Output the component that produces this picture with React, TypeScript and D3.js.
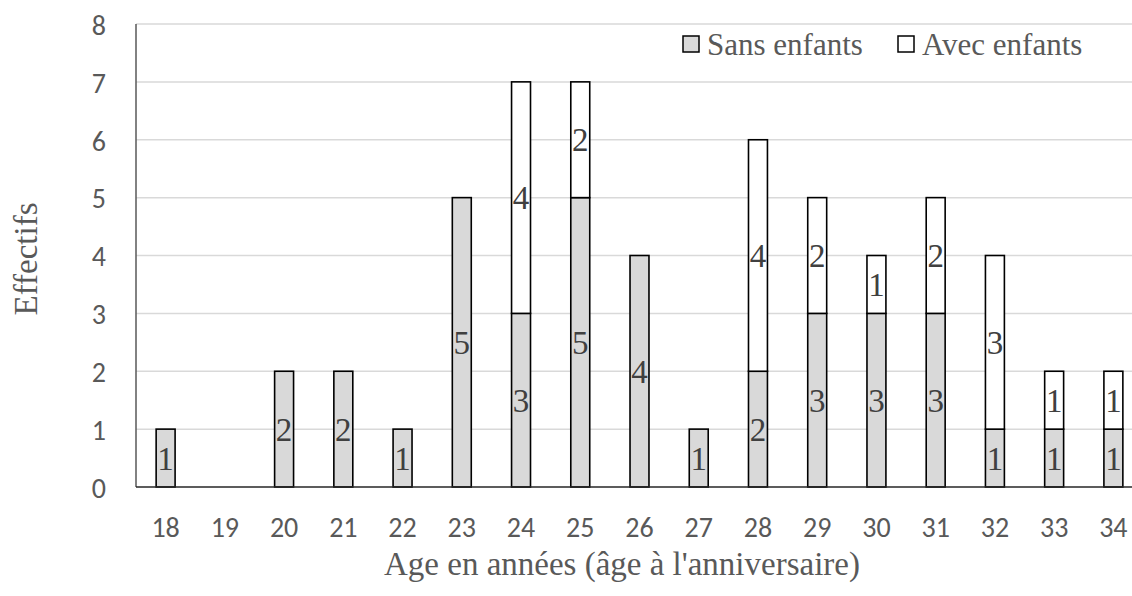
import React from "react";
import * as d3 from "d3";

const ages = ["18","19","20","21","22","23","24","25","26","27","28","29","30","31","32","33","34"];
const sansEnfants = [1,0,2,2,1,5,3,5,4,1,2,3,3,3,1,1,1];
const avecEnfants = [0,0,0,0,0,0,4,2,0,0,4,2,1,2,3,1,1];
const yTicks = [0,1,2,3,4,5,6,7,8];
const seriesNames = ["Sans enfants", "Avec enfants"];
const seriesFills = ["#d9d9d9", "#ffffff"];

export default function App() {
  const W = 1132, H = 596;
  const left = 136, right = 1143, top = 24, bottom = 487;
  const x = d3.scaleBand<string>().domain(ages).range([left, right]).padding(0);
  const y = d3.scaleLinear().domain([0, 8]).range([bottom, top]);
  const bw = x.bandwidth() * 0.32;

  const rows = ages.map((a, i) => ({ age: a, sans: sansEnfants[i], avec: avecEnfants[i] }));
  const stack = d3.stack<any>().keys(["sans", "avec"])(rows);

  return (
    <svg width={W} height={H} fontFamily="Times New Roman" style={{ position: "absolute", left: 0, top: 0, background: "#fff" }}>
      {yTicks.map(t => t > 0 && (
        <line key={t} x1={left} x2={W} y1={y(t)} y2={y(t)} stroke="#d9d9d9" strokeWidth={1.5} />
      ))}
      <g fontFamily="Times New Roman">
        {stack.map((s, si) => (
          <g key={si}>
            {s.map((d, i) => {
              const h = y(d[0]) - y(d[1]);
              if (h <= 0) return null;
              const cx = (x(ages[i]) as number) + x.bandwidth() / 2;
              return (
                <g key={i}>
                  <rect x={cx - bw / 2} y={y(d[1])} width={bw} height={h} fill={seriesFills[si]} stroke="#000" strokeWidth={1.6} />
                  <text x={cx} y={(y(d[0]) + y(d[1])) / 2} dy="0.35em" textAnchor="middle" fontSize={33} fill="#404040">
                    {d[1] - d[0]}
                  </text>
                </g>
              );
            })}
          </g>
        ))}
        <text x={622} y={575} textAnchor="middle" fontSize={33} fill="#595959">Age en années (âge à l'anniversaire)</text>
        <text transform="translate(37,259) rotate(-90)" textAnchor="middle" fontSize={33} fill="#595959">Effectifs</text>
        {seriesNames.map((n, i) => {
          const lx = [683, 898][i];
          return (
            <g key={n}>
              <rect x={lx} y={36} width={16} height={16} fill={seriesFills[i]} stroke="#000" strokeWidth={1.5} />
              <text x={lx + 24} y={55} fontSize={31} fill="#595959">{n}</text>
            </g>
          );
        })}
      </g>
      <line x1={left} x2={left} y1={top} y2={bottom} stroke="#595959" strokeWidth={1.5} />
      <line x1={left} x2={W} y1={bottom} y2={bottom} stroke="#262626" strokeWidth={1.5} />
      <g fontFamily="Carlito">
        {yTicks.map(t => (
          <text key={t} x={106} y={y(t) + 1} dy="0.35em" textAnchor="end" fontSize={28} fill="#595959">{t}</text>
        ))}
        {ages.map(a => (
          <text key={a} x={(x(a) as number) + x.bandwidth() / 2} y={537} textAnchor="middle" fontSize={28} fill="#595959">{a}</text>
        ))}
      </g>
    </svg>
  );
}
